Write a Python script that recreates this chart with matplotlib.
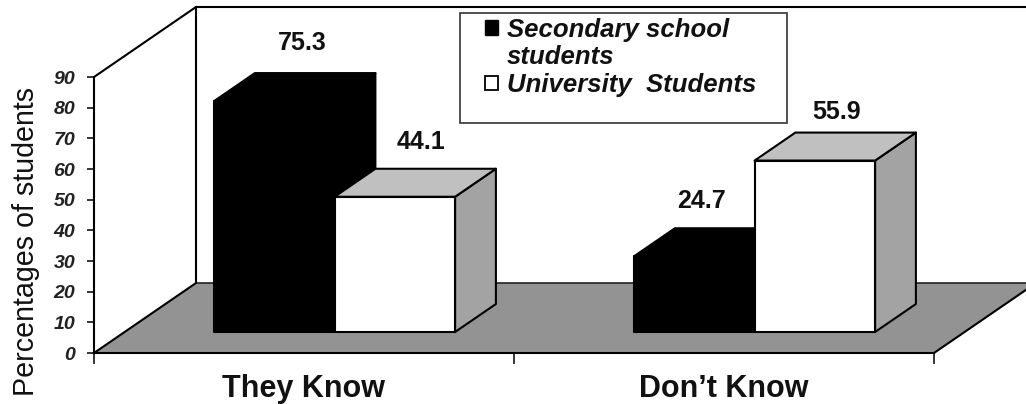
import matplotlib
matplotlib.use("Agg")
import matplotlib.pyplot as plt
from matplotlib.patches import Polygon, Rectangle, Patch

categories = ["They Know", "Don\u2019t Know"]
legend_lines = ["Secondary school", "students", "University  Students"]
secondary = [75.3, 24.7]
university = [44.1, 55.9]
y_ticks = [0, 10, 20, 30, 40, 50, 60, 70, 80, 90]

# label nudges in pixels, (secondary, university) per category
label_dx = [(-13, -15), (-34, -19)]
label_dy = [(-1, 2), (2, 8.5)]

W, H = 1026, 404
X_PX, Y_PX = 420.0, 276 / 90          # pixels per category, pixels per percent
X0_PX, Y0_PX = 304.0, 353.0           # pixel of first category centre, value 0
DX, DV = 102 / X_PX, 70 / Y_PX        # full depth of the 3-D box in data units
BAR_W = 120.5 / X_PX
D_FRONT, D_BACK = 0.3, 0.7
LW = 1.5

plt.rcParams["font.family"] = ["Liberation Sans", "DejaVu Sans"]
fig = plt.figure(figsize=(W / 100, H / 100), dpi=100, facecolor="white")
ax = fig.add_axes([0, 0, 1, 1])
ax.set_xlim(-X0_PX / X_PX, (W - X0_PX) / X_PX)
ax.set_ylim((Y0_PX - H) / Y_PX, Y0_PX / Y_PX)
ax.patch.set_visible(False)


def pr(x, v, d):
    return (x + d * DX, v + d * DV)


def poly(pts, fc, ec="black", z=1, lw=LW):
    ax.add_patch(Polygon(pts, closed=True, facecolor=fc, edgecolor=ec, linewidth=lw,
                         zorder=z, joinstyle="round"))


xmin, xmax = -0.5, len(categories) - 0.5
vmax = y_ticks[-1]

# walls and floor
poly([pr(xmin, 0, 0), pr(xmax, 0, 0), pr(xmax, 0, 1), pr(xmin, 0, 1)], "#939393", ec="none", z=1)
ax.plot(*zip(pr(xmin, 0, 1), pr(xmax, 0, 1)), color="#222222", lw=1.2, zorder=1.5)
ax.plot(*zip(pr(xmin, 0, 0), pr(xmin, 0, 1), pr(xmin, vmax, 1), pr(xmax, vmax, 1)),
        color="black", lw=LW, zorder=1.5)
ax.plot(*zip(pr(xmin, vmax, 0), pr(xmin, vmax, 1)), color="black", lw=LW, zorder=1.5)
ax.plot(*zip(pr(xmax, 0, 0), pr(xmax, 0, 1)), color="black", lw=LW, zorder=1.5)


def bar3d(x0, x1, v, fc, z):
    top_c = "#c0c0c0" if fc == "white" else fc
    side_c = "#a3a3a3" if fc == "white" else fc
    poly([pr(x1, 0, D_FRONT), pr(x1, 0, D_BACK), pr(x1, v, D_BACK), pr(x1, v, D_FRONT)], side_c, z=z)
    poly([pr(x0, v, D_FRONT), pr(x1, v, D_FRONT), pr(x1, v, D_BACK), pr(x0, v, D_BACK)], top_c, z=z)
    poly([pr(x0, 0, D_FRONT), pr(x1, 0, D_FRONT), pr(x1, v, D_FRONT), pr(x0, v, D_FRONT)], fc, z=z + 0.1)


for i, (a, b) in enumerate(zip(secondary, university)):
    bar3d(i - BAR_W, i, a, "black", 2 + i)
    bar3d(i, i + BAR_W, b, "white", 2.5 + i)

# value labels
PX2PT = 0.72
for i, (a, b) in enumerate(zip(secondary, university)):
    for k, (v, off) in enumerate(((a, -BAR_W / 2), (b, BAR_W / 2))):
        x, y = pr(i + off, v, D_BACK)
        ax.annotate(f"{v}", (x, y),
                    xytext=(label_dx[i][k] * PX2PT, (22 - label_dy[i][k]) * PX2PT),
                    textcoords="offset points", ha="center", va="baseline",
                    fontsize=18, fontweight="bold", color="#111111", zorder=9)

# axes
for s in ("top", "right"):
    ax.spines[s].set_visible(False)
ax.spines["left"].set_position(("data", xmin))
ax.spines["left"].set_bounds(0, vmax)
ax.spines["bottom"].set_position(("data", 0))
ax.spines["bottom"].set_bounds(xmin, xmax)
for s in ("left", "bottom"):
    ax.spines[s].set_linewidth(LW)
    ax.spines[s].set_zorder(8)

ax.set_yticks(y_ticks)
ax.set_yticklabels([str(t) for t in y_ticks], fontsize=14, fontstyle="italic", fontweight="bold", color="#222222")
ax.tick_params(axis="y", length=5, width=1.1, pad=8.5)
ax.set_xticks([xmin + k for k in range(len(categories) + 1)])
ax.set_xticklabels([])
ax.tick_params(axis="x", which="major", length=8, width=1.1)
ax.set_xticks(range(len(categories)), minor=True)
ax.set_xticklabels(categories, minor=True, fontsize=22, fontweight="bold", color="#111111")
ax.tick_params(axis="x", which="minor", length=0, pad=15)

ax.set_ylabel("Percentages of students", fontsize=20.6, color="#111111")
ax.yaxis.set_label_coords(40 / W, 1 - 242 / H)

# legend
blank = Patch(facecolor="none", edgecolor="none")
handles = [Patch(facecolor="black", edgecolor="black"), blank,
           Patch(facecolor="white", edgecolor="black", linewidth=1.3)]
frame = Rectangle((460 / W, 1 - 123 / H), 327 / W, 110 / H, transform=fig.transFigure,
                  facecolor="white", edgecolor="#333333", linewidth=1.2, zorder=7)
ax.add_patch(frame)
leg = ax.legend(handles, legend_lines, loc="upper left", bbox_to_anchor=(472 / W, 1 - 4.7 / H),
                bbox_transform=fig.transFigure, frameon=False, borderpad=0, labelspacing=0.145,
                handlelength=0.5, handleheight=0.5, handletextpad=0.35,
                prop={"size": 18.5, "style": "italic", "weight": "bold"})
leg.set_zorder(9)
for t in leg.get_texts():
    t.set_color("#111111")

fig.savefig("out.png", dpi=100)
